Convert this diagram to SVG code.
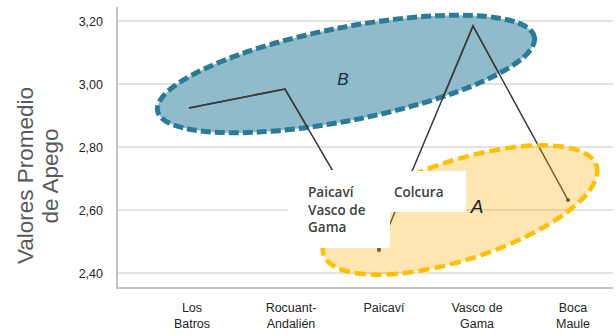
<svg xmlns="http://www.w3.org/2000/svg" width="616" height="335" viewBox="0 0 616 335">
<style>
.grid{stroke:#d9d9d9;stroke-width:1.5;fill:none}
.axis{stroke:#c4c4c4;stroke-width:2;fill:none}
.tick{font-family:"Liberation Sans",Arial,sans-serif;font-size:12.5px;fill:#262626;text-anchor:end}
.cat{font-family:"Liberation Sans",Arial,sans-serif;font-size:12.5px;fill:#262626;text-anchor:middle}
.title{font-family:"Liberation Sans",Arial,sans-serif;font-size:22.5px;fill:#595959;text-anchor:middle}
.lbl{font-family:"Open Sans","Liberation Sans",Arial,sans-serif;font-weight:600;font-size:13.5px;fill:#404040}
.big{font-family:"Liberation Sans",Arial,sans-serif;font-style:italic;text-anchor:middle}
.series{fill:none;stroke:#3a3a3a;stroke-width:1.5;stroke-linejoin:miter}
</style>
<defs>
<clipPath id="clipB"><ellipse cx="0" cy="0" rx="192" ry="46.5" transform="translate(346,74) rotate(-11.1)"/></clipPath>
</defs>
<rect width="616" height="335" fill="#ffffff"/>
<g id="gridlines">
<line class="grid" x1="117" y1="21" x2="613" y2="21"/>
<line class="grid" x1="117" y1="84" x2="613" y2="84"/>
<line class="grid" x1="117" y1="147" x2="613" y2="147"/>
<line class="grid" x1="117" y1="210" x2="613" y2="210"/>
<line class="grid" x1="117" y1="273" x2="613" y2="273"/>
</g>
<g id="axes">
<line class="axis" x1="117" y1="7" x2="117" y2="288"/>
<line class="axis" x1="116" y1="288" x2="613" y2="288"/>
<text class="tick" x="103" y="25.5">3,20</text>
<text class="tick" x="103" y="88.5">3,00</text>
<text class="tick" x="103" y="151.5">2,80</text>
<text class="tick" x="103" y="214.5">2,60</text>
<text class="tick" x="103" y="277.5">2,40</text>
<text class="title" transform="translate(33,175.5) rotate(-90)">Valores Promedio</text>
<text class="title" transform="translate(58,176) rotate(-90)">de Apego</text>
<text class="cat" x="192" y="312">Los</text>
<text class="cat" x="192" y="328">Batros</text>
<text class="cat" x="291" y="312">Rocuant-</text>
<text class="cat" x="291" y="328">Andalién</text>
<text class="cat" x="384" y="312">Paicaví</text>
<text class="cat" x="477" y="312">Vasco de</text>
<text class="cat" x="477" y="328">Gama</text>
<text class="cat" x="573" y="312">Boca</text>
<text class="cat" x="573" y="328">Maule</text>
</g>
<g id="group-B">
<ellipse cx="0" cy="0" rx="192" ry="46.5" transform="translate(346,74) rotate(-11.1)" fill="#8fbbcb" stroke="#2b7b96" stroke-width="5" stroke-dasharray="10 4"/>
</g>
<g id="connectors">
<path class="series" d="M189,108 L285,89 L379,250 L473,26 L568,200"/>
<path class="series" d="M189,108 L285,89 L379,250 L473,26 L568,200" stroke="#6b2c5c" stroke-width="1.3" clip-path="url(#clipB)"/>
<circle cx="379" cy="250" r="2" fill="#3a3a3a"/>
<circle cx="568" cy="200" r="2" fill="#3a3a3a"/>
</g>
<g id="group-A">
<ellipse cx="0" cy="0" rx="143.5" ry="49.5" transform="translate(460,210) rotate(-18)" fill="#f8ac00" fill-opacity="0.3" stroke="#ffc000" stroke-width="4.5" stroke-dasharray="11 5"/>
</g>
<g id="label-paicavi">
<rect x="288" y="170" width="102" height="78" fill="#ffffff"/>
<text class="lbl" x="308" y="197">Paicaví</text>
<text class="lbl" x="308" y="214.5">Vasco de</text>
<text class="lbl" x="308" y="232">Gama</text>
</g>
<g id="label-colcura">
<rect x="390" y="171" width="76" height="41" fill="#ffffff"/>
<text class="lbl" x="394" y="197">Colcura</text>
</g>
<g id="labels-groups">
<text class="big" x="343" y="85" font-size="17" fill="#1c2e4a">B</text>
<text class="big" x="477" y="213" font-size="19" fill="#1a1a2a">A</text>
</g>
</svg>
